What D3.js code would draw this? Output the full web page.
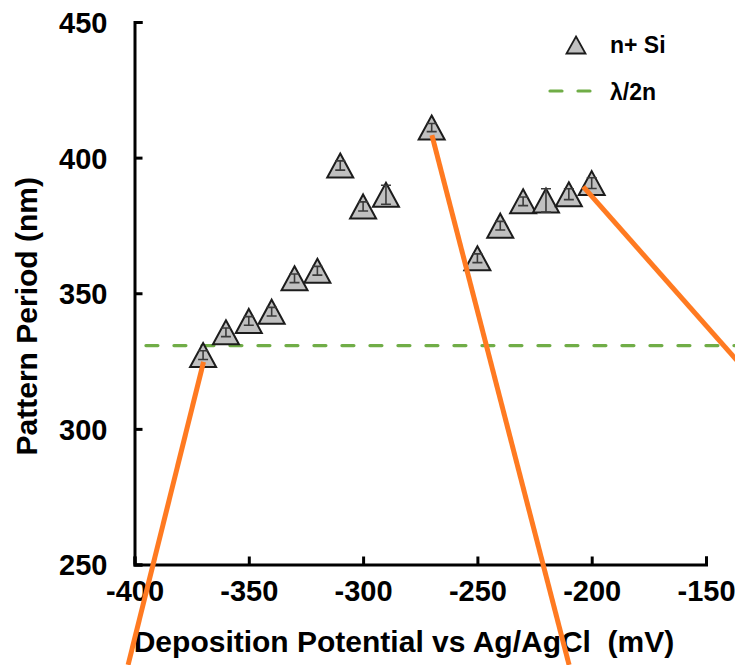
<!DOCTYPE html>
<html>
<head>
<meta charset="utf-8">
<script src="https://cdn.jsdelivr.net/npm/d3@7"></script>
<style>
  html, body { margin: 0; padding: 0; background: #fff; }
  svg { display: block; }
  text { font-family: "Liberation Sans", Arial, sans-serif; font-weight: bold; fill: #000; }
</style>
</head>
<body>
<svg id="chart" width="735" height="665"></svg>
<script>
// Deposition potential (mV vs Ag/AgCl) and measured pattern period (nm)
const potentials = [-370, -360, -350, -340, -330, -320, -310, -300, -290, -270, -250, -240, -230, -220, -210, -200];
const periods    = [327.2, 335.6, 339.8, 343.2, 355.5, 358.3, 397.1, 382.0, 386.3, 411.1, 362.9, 374.9, 383.9, 384.2, 386.5, 390.6];
const periodErr  = [1.6, 1.6, 1.6, 1.6, 1.6, 1.6, 1.7, 1.7, 3.5, 1.5, 1.6, 1.6, 1.6, 4.3, 2.0, 2.0];

// Half-wavelength reference level (lambda / 2n)
const halfWaveLevel = 330.7;
const halfWaveSpan  = [-395, -137];

// Callout leader lines, in data units
const calloutStart = [[-369.8, 324.7], [-269.9, 408.3], [-203.7, 389.3]];
const calloutEnd   = [[-402.8, 213.0], [-209.9, 213.0], [-135.1, 323.9]];

const xTicks = [-400, -350, -300, -250, -200, -150];
const yTicks = [250, 300, 350, 400, 450];
const seriesNames = ["n+ Si", "\u03bb/2n"];

const svg = d3.select("#chart");

const x = d3.scaleLinear().domain([-400, -150]).range([134.5, 706]);
const y = d3.scaleLinear().domain([250, 450]).range([564.5, 22]);

// Triangle marker centered on its bounding box
function tri(w, h) {
  return `M0,${-h / 2}L${w / 2},${h / 2}L${-w / 2},${h / 2}Z`;
}

// Axes (ticks point inward), labels with plain hyphen-minus
const fmt = d => String(d);
const xAxis = d3.axisBottom(x).tickValues(xTicks).tickSize(-8).tickPadding(16).tickFormat(fmt);
const yAxis = d3.axisLeft(y).tickValues(yTicks).tickSize(-8).tickPadding(27).tickFormat(fmt);

const gx = svg.append("g").attr("transform", `translate(0,${y(250)})`).call(xAxis);
const gy = svg.append("g").attr("transform", `translate(${x(-400)},0)`).call(yAxis);

[gx, gy].forEach(g => {
  g.select(".domain").attr("stroke", "#000").attr("stroke-width", 3);
  g.selectAll(".tick line").attr("stroke", "#000").attr("stroke-width", 3);
  g.selectAll(".tick text").style("font-size", "29px").style("font-weight", "bold")
    .style("font-family", '"Liberation Sans", Arial, sans-serif').attr("fill", "#000");
});
gx.selectAll(".tick text").attr("dy", "0.71em");
gy.selectAll(".tick text").attr("dy", "0.36em");

// Axis titles
svg.append("text")
  .attr("x", 404)
  .attr("y", 652)
  .attr("text-anchor", "middle")
  .attr("xml:space", "preserve")
  .style("font-size", "30px")
  .text("Deposition Potential vs Ag/AgCl  (mV)");

svg.append("text")
  .attr("transform", `translate(37,${(y(250) + y(450)) / 2 + 23}) rotate(-90)`)
  .attr("text-anchor", "middle")
  .style("font-size", "30px")
  .text("Pattern Period (nm)");

// lambda/2n reference line
svg.append("line")
  .attr("x1", x(halfWaveSpan[0])).attr("x2", x(halfWaveSpan[1]))
  .attr("y1", y(halfWaveLevel)).attr("y2", y(halfWaveLevel))
  .attr("stroke", "#70AD47").attr("stroke-width", 3.2)
  .attr("stroke-dasharray", "12,16").attr("stroke-linecap", "round");

// Data markers
const pts = potentials.map((p, i) => ({ p, v: periods[i], e: periodErr[i] }));

svg.append("g").selectAll("path")
  .data(pts).join("path")
  .attr("d", tri(26, 24))
  .attr("transform", d => `translate(${x(d.p)},${y(d.v)})`)
  .attr("fill", "#C0C0C0")
  .attr("stroke", "#1c1c1c")
  .attr("stroke-width", 2)
  .attr("stroke-linejoin", "miter");

// Error bars
const eb = svg.append("g").attr("stroke", "#3a3a3a").attr("stroke-width", 1.6).attr("fill", "none");
eb.selectAll("path").data(pts).join("path")
  .attr("d", d => {
    const cx = x(d.p), y1 = y(d.v + d.e), y2 = y(d.v - d.e), c = 5;
    return `M${cx},${y1}V${y2}M${cx - c},${y1}H${cx + c}M${cx - c},${y2}H${cx + c}`;
  });

// Callout leader lines
svg.append("g").selectAll("line")
  .data(calloutStart.map((s, i) => [s, calloutEnd[i]])).join("line")
  .attr("x1", d => x(d[0][0])).attr("y1", d => y(d[0][1]))
  .attr("x2", d => x(d[1][0])).attr("y2", d => y(d[1][1]))
  .attr("stroke", "#FF7A21").attr("stroke-width", 5);

// Legend
const lg = svg.append("g");
lg.append("path").attr("d", tri(19, 17))
  .attr("transform", "translate(576,45)")
  .attr("fill", "#C0C0C0").attr("stroke", "#1c1c1c").attr("stroke-width", 1.8);
lg.append("text").attr("x", 610).attr("y", 53).style("font-size", "23px").text(seriesNames[0]);
lg.append("line")
  .attr("x1", 550).attr("x2", 593).attr("y1", 91).attr("y2", 91)
  .attr("stroke", "#70AD47").attr("stroke-width", 3.2)
  .attr("stroke-dasharray", "12,16").attr("stroke-linecap", "round");
lg.append("text").attr("x", 610).attr("y", 100).style("font-size", "23px").text(seriesNames[1]);
</script>
</body>
</html>
